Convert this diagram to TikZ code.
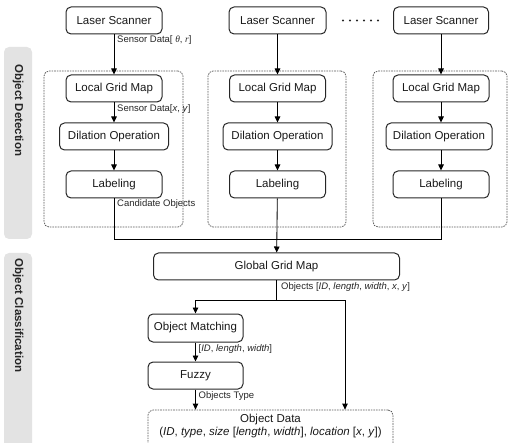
\documentclass[tikz,border=0pt]{standalone}
\usepackage{fontspec}
\setmainfont{Liberation Sans}
\newfontfamily\tmsfont{Liberation Serif}
\usetikzlibrary{arrows.meta}
\begin{document}
\begin{tikzpicture}[x=1pt,y=-1pt,
  box/.style={draw=black!85, line width=1pt, rounded corners=5pt, minimum height=27pt, inner sep=0pt, font=\fontsize{11.5}{13}\selectfont, text=black!90},
  dbox/.style={draw=black!65, line width=0.75pt, dash pattern=on 1.6pt off 1pt, rounded corners=5pt, inner sep=0pt},
  band/.style={fill=black!11, rounded corners=5pt, inner sep=0pt},
  bandtext/.style={font=\fontsize{11.5}{13}\selectfont\bfseries, text=black!85, rotate=-90, inner sep=0pt},
  lbl/.style={font=\fontsize{9.5}{11}\selectfont, text=black!85, anchor=west, inner sep=0pt},
  arr/.style={-{Triangle[length=6pt,width=5.5pt]}, line width=0.85pt},
  ln/.style={line width=0.85pt},
  dot/.style={circle, fill=black!85, inner sep=0pt, minimum size=2.4pt}]
\useasboundingbox (0,0) rectangle (508,443);
% side bands
\node[band, minimum width=28pt, minimum height=192pt] (b1) at (18,143) {};
\node[band, minimum width=28pt, minimum height=202pt] (b2) at (18,354) {};
\node[bandtext] (t1) at (18,110.5) {Object Detection};
\node[bandtext] (t2) at (18,315.5) {Object Classification};
% dashed groups
\node[dbox, minimum width=139pt, minimum height=156pt] (d1) at (113.5,149) {};
\node[dbox, minimum width=138pt, minimum height=156pt] (d2) at (277,149) {};
\node[dbox, minimum width=134pt, minimum height=156pt] (d3) at (440,149) {};
% column 1
\node[box, minimum width=96pt] (ls1) at (114,20.5) {Laser Scanner};
\node[box, minimum width=96pt] (lg1) at (114,88.5) {Local Grid Map};
\node[box, minimum width=109pt] (dl1) at (114,136.5) {Dilation Operation};
\node[box, minimum width=96pt] (lb1) at (114,184.5) {Labeling};
% column 2
\node[box, minimum width=97pt] (ls2) at (277.5,20.5) {Laser Scanner};
\node[box, minimum width=96pt] (lg2) at (277.5,88.5) {Local Grid Map};
\node[box, minimum width=109pt] (dl2) at (277.5,136.5) {Dilation Operation};
\node[box, minimum width=96pt] (lb2) at (277.5,184.5) {Labeling};
% column 3
\node[box, minimum width=95pt] (ls3) at (441,20.5) {Laser Scanner};
\node[box, minimum width=96pt] (lg3) at (441,88.5) {Local Grid Map};
\node[box, minimum width=106pt] (dl3) at (439,136.5) {Dilation Operation};
\node[box, minimum width=96pt] (lb3) at (441,184.5) {Labeling};
% dots
\foreach \i in {0,...,5} {\node[dot] (dt\i) at (343+7*\i,20.5) {};}
% lower part
\node[box, minimum width=246pt] (gg) at (276.5,266.5) {Global Grid Map};
\node[box, minimum width=95pt, minimum height=28pt] (om) at (195.5,328) {Object Matching};
\node[box, minimum width=95pt] (fz) at (195.5,375.5) {Fuzzy};
\node[dbox, minimum width=245pt, minimum height=44pt] (od) at (270.5,432) {};
\node[align=center, inner sep=0pt, font=\fontsize{11.5}{13}\selectfont, text=black!90] (odt) at (270.5,426.5)
  {Object Data\\(\textit{ID}, \textit{type}, \textit{size} [\textit{length}, \textit{width}], \textit{location} [\textit{x}, \textit{y}])};
% connectors
\foreach \c in {1,2,3} {
  \draw[arr] (ls\c) -- (lg\c);
  \draw[arr] (lg\c) -- (lg\c.south |- dl\c.north);
  \draw[arr] (lg\c.south |- dl\c.south) -- (lb\c);
}
\coordinate (j1) at (114,239);
\coordinate (j3) at (441,239);
\draw[ln] (lb1) -- (j1) -- (j3) -- (lb3);
\draw[arr] (lb2) -- (gg);
\coordinate (s) at (276.5,300);
\coordinate (sl) at (195.5,300);
\coordinate (sr) at (345,300);
\draw[ln] (gg) -- (s);
\draw[ln] (sl) -- (sr);
\draw[arr] (sl) -- (om);
\draw[arr] (sr) -- (sr |- od.north);
\draw[arr] (om) -- (fz);
\draw[arr] (fz) -- (fz.south |- od.north);
% labels
\node[lbl] (l1) at (117,40.5) {Sensor Data[ {\tmsfont\itshape θ}, {\tmsfont\itshape r}]};
\node[lbl] (l2) at (117,109) {Sensor Data[\textit{x}, \textit{y}]};
\node[lbl] (l3) at (117,204.5) {Candidate Objects};
\node[lbl] (l4) at (281,287) {Objects [\textit{ID}, \textit{length}, \textit{width}, \textit{x}, \textit{y}]};
\node[lbl] (l5) at (198.5,349) {[\textit{ID}, \textit{length}, \textit{width}]};
\node[lbl] (l6) at (198.5,396) {Objects Type};
\end{tikzpicture}
\end{document}
